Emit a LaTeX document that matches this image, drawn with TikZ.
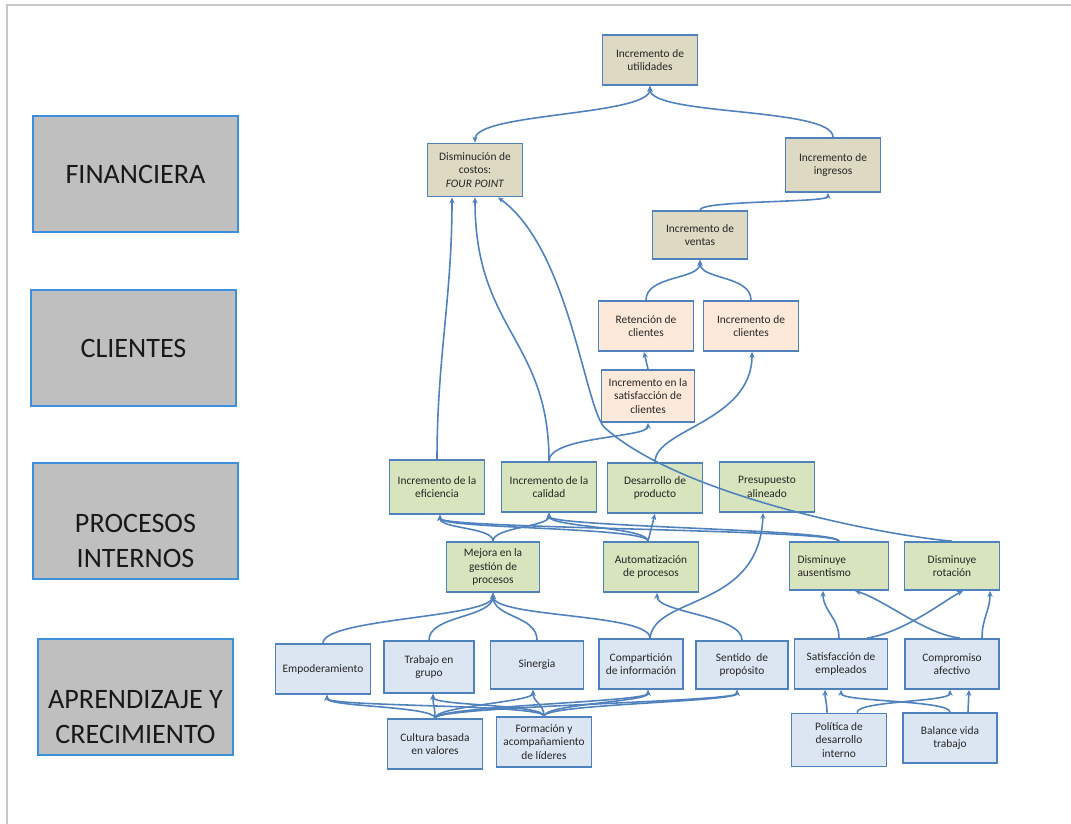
\documentclass[tikz,border=0pt]{standalone}
\usepackage{fontspec}
\setmainfont{Carlito}
\usetikzlibrary{arrows.meta}

\definecolor{bordeazul}{HTML}{4F81BD}
\definecolor{finfill}{HTML}{DDD9C3}
\definecolor{clifill}{HTML}{FDE9D9}
\definecolor{profill}{HTML}{D7E4BD}
\definecolor{aprfill}{HTML}{DCE6F2}
\definecolor{catfill}{HTML}{BFBFBF}
\definecolor{catborde}{HTML}{3D8FDB}
\definecolor{marco}{HTML}{C8C8C8}

\tikzset{
  caja/.style={draw=bordeazul, line width=1pt, align=center, minimum width=1.9cm,
    minimum height=1cm, font=\fontsize{6.5}{7.8}\selectfont, text=black!85},
  fin/.style={caja, fill=finfill},
  cli/.style={caja, fill=clifill},
  pro/.style={caja, fill=profill},
  apr/.style={caja, fill=aprfill},
  persp/.style={draw=catborde, line width=0.7pt, fill=catfill, minimum width=4.1cm,
    minimum height=2.32cm, align=center, inner sep=0pt,
    font=\fontsize{16}{19.5}\selectfont, text=black!90},
  link/.style={draw=bordeazul, line width=0.9pt, -{Stealth[length=3.4pt,width=3pt]}},
}

\begin{document}
\begin{tikzpicture}[x=0.02cm, y=-0.02cm]
\useasboundingbox (0,0) rectangle (1071,824);
\draw[marco, line width=0.8pt] (7,824) -- (7,5) -- (1071,5);

% perspectivas
\node[persp] (pfin) at (135.5,174) {FINANCIERA};
\node[persp] (pcli) at (133.5,348) {CLIENTES};
\node[persp] (ppro) at (135.5,521) {\strut\\PROCESOS\\INTERNOS};
\node[persp, minimum width=3.9cm] (papr) at (135.5,697) {\strut\\APRENDIZAJE Y\\CRECIMIENTO};

% financiera
\node[fin] (uti) at (650,60) {Incremento de\\utilidades};
\node[fin, minimum height=1.06cm] (dis) at (475,170) {Disminución de\\costos:\\\textit{FOUR POINT}};
\node[fin, minimum height=1.08cm] (ing) at (833,165) {Incremento de\\ingresos};
\node[fin, minimum height=0.96cm] (ven) at (700,235) {Incremento de\\ventas};

% clientes
\node[cli] (ret) at (646,326) {Retención de\\clientes};
\node[cli] (icl) at (751,326) {Incremento de\\clientes};
\node[cli, minimum width=1.86cm, minimum height=1.04cm] (sat) at (648,396) {Incremento en la\\satisfacción de\\clientes};

% procesos internos
\node[pro, minimum height=1.08cm] (efi) at (437,487) {Incremento de la\\eficiencia};
\node[pro] (cal) at (549,487) {Incremento de la\\calidad};
\node[pro] (des) at (655,488) {Desarrollo de\\producto};
\node[pro] (pre) at (767,487) {Presupuesto\\alineado};
\node[pro, minimum width=1.86cm] (mej) at (493,567) {Mejora en la\\gestión de\\procesos};
\node[pro] (aut) at (651,567) {Automatización\\de procesos};
\node[pro, align=left, text width=1.66cm, inner xsep=0.16cm, minimum height=0.96cm] (aus) at (839,566) {Disminuye\\ausentismo};
\node[pro, minimum height=0.96cm] (rot) at (952,566) {Disminuye\\rotación};

% aprendizaje y crecimiento
\node[apr] (emp) at (323,669) {Empoderamiento};
\node[apr, minimum width=1.8cm, minimum height=1.04cm] (tra) at (429,667) {Trabajo en\\grupo};
\node[apr, minimum width=1.86cm, minimum height=0.96cm] (sin) at (537,665) {Sinergia};
\node[apr, minimum width=1.68cm] (com) at (641,664) {Compartición\\de información};
\node[apr, minimum width=1.84cm, minimum height=0.96cm] (sen) at (742,665) {Sentido~ de\\propósito};
\node[apr, minimum width=1.86cm] (sae) at (841,664) {Satisfacción de\\empleados};
\node[apr, minimum width=1.88cm] (cpa) at (952,664) {Compromiso\\afectivo};
\node[apr] (cul) at (435,744) {Cultura basada\\en valores};
\node[apr] (form) at (544,742) {Formación y\\acompañamiento\\de líderes};
\node[apr, minimum height=1.06cm] (pol) at (839,740) {Política de\\desarrollo\\interno};
\node[apr, minimum width=1.88cm] (bal) at (950,738) {Balance vida\\trabajo};

% conexiones financiera
\draw[link, {Stealth[length=3.4pt,width=3pt]}-{Stealth[length=3.4pt,width=3pt]}]
  (dis.north) .. controls +(0,-30) and +(0,30) .. (uti.south);
\draw[link] (ing.north) .. controls +(0,-30) and +(0,30) .. (uti.south);
\draw[link] (ven.north) .. controls +(0,-10) and +(0,10) .. ([xshift=-0.1cm]ing.south);

% conexiones clientes
\draw[link] (ret.north) .. controls +(0,-25) and +(0,20) .. (ven.south);
\draw[link] (icl.north) .. controls +(0,-25) and +(0,20) .. (ven.south);
\draw[link] (sat.north) -- ([xshift=-0.04cm]ret.south);
\draw[link] (cal.north) .. controls +(0,-25) and +(0,15) .. (sat.south);
\draw[link] (des.north) .. controls +(0,-33) and +(0,70) .. ([xshift=0.02cm]icl.south);

% procesos hacia costos
\draw[link] (efi.north) .. controls +(0,-100) and +(0,100) .. ([xshift=-0.46cm]dis.south);
\draw[link] (cal.north) .. controls +(0,-122) and +(0,133) .. (dis.south);
\draw[link] (rot.north) .. controls (880,535) and (680,495) .. (605,428)
  .. controls (585,410) and (570,250) .. ([xshift=0.46cm]dis.south);

% procesos entre si
\draw[link] (mej.north) .. controls +(0,-14) and +(0,14) .. ([xshift=0.06cm]efi.south);
\draw[link] (mej.north) .. controls +(0,-14) and +(0,14) .. (cal.south);
\draw[link] ([xshift=-0.06cm]aut.north) -- (des.south);
\draw[link] ([xshift=-0.06cm]aut.north) .. controls +(0,-14) and +(0,14) .. ([xshift=0.06cm]efi.south);
\draw[link] ([xshift=-0.06cm]aut.north) .. controls +(0,-14) and +(0,14) .. (cal.south);
\draw[link] (aus.north) .. controls +(0,-12) and +(0,14) .. ([xshift=0.06cm]efi.south);
\draw[link] (aus.north) .. controls +(0,-12) and +(0,14) .. (cal.south);

% aprendizaje hacia procesos
\draw[link] (emp.north) .. controls +(0,-25) and +(0,25) .. (mej.south);
\draw[link] (tra.north) .. controls +(0,-25) and +(0,25) .. (mej.south);
\draw[link] (sin.north) .. controls +(0,-25) and +(0,25) .. (mej.south);
\draw[link] ([xshift=0.18cm]com.north) .. controls +(0,-25) and +(0,25) .. (mej.south);
\draw[link] ([xshift=0.18cm]com.north) .. controls (655,595) and (760,610) .. ([xshift=-0.08cm]pre.south);
\draw[link] (sen.north) .. controls +(0,-25) and +(0,20) .. ([xshift=0.12cm]aut.south);

% base del aprendizaje
\foreach \src in {cul,form}
  \foreach \dst/\dx in {emp/0.08,tra/0.08,sin/-0.08,com/0.14,sen/-0.1}
    \draw[link] (\src.north) .. controls +(0,-12) and +(0,12) .. ([xshift=\dx cm]\dst.south);

% lado derecho
\draw[link] ([xshift=-0.04cm]sae.north) .. controls +(0,-20) and +(0,20) .. ([xshift=-0.32cm]aus.south);
\draw[link] ([xshift=0.52cm]sae.north) .. controls (905,632) and (945,600) .. ([xshift=0.22cm]rot.south);
\draw[link] ([xshift=0.16cm]cpa.north) .. controls (925,634) and (885,600) .. ([xshift=0.32cm]aus.south);
\draw[link] ([xshift=0.6cm]cpa.north) .. controls +(0,-20) and +(0,20) .. ([xshift=0.76cm]rot.south);
\draw[link] ([xshift=-0.24cm]pol.north) .. controls +(0,-10) and +(0,10) .. ([xshift=-0.32cm]sae.south);
\draw[link] ([xshift=0.36cm]pol.north) .. controls +(0,-12) and +(0,12) .. ([xshift=-0.04cm]cpa.south);
\draw[link] (bal.north) .. controls +(0,-12) and +(0,12) .. (sae.south);
\draw[link] ([xshift=0.36cm]bal.north) -- ([xshift=0.34cm]cpa.south);
\end{tikzpicture}
\end{document}
